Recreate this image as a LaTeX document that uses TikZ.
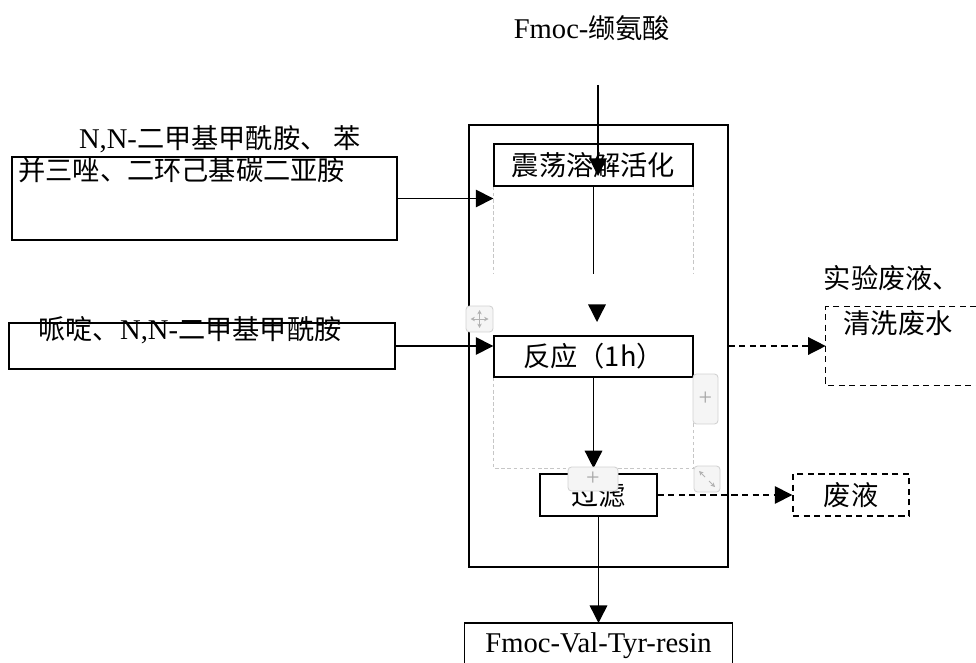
\documentclass[tikz,border=0pt]{standalone}
\usepackage{fontspec}
\setmainfont{Liberation Serif}[Scale=1.05]
\newfontfamily\cjk{Noto Sans CJK SC}
\usepackage{tikz}
\usetikzlibrary{arrows.meta, positioning}
\newcommand{\zh}[1]{{\cjk #1}}

\tikzset{
    stepbox/.style={draw, line width=0.8pt, inner sep=0pt},
    wasteline/.style={line width=0.8pt, dash pattern=on 3.5pt off 2.5pt},
    wastebox/.style={draw, wasteline, inner sep=0pt},
    flow/.style={line width=0.8pt, -{Triangle[length=10pt,width=10pt]}},
    wasteflow/.style={flow, dash pattern=on 3.5pt off 2.5pt},
    cellline/.style={gray!45, line width=0.4pt, dash pattern=on 2pt off 1.5pt},
    uibtn/.style={draw=gray!35, fill=gray!8, rounded corners=2pt, line width=0.5pt, inner sep=0pt, text=gray!70, font=\fontsize{13pt}{13pt}\selectfont},
    uiarrow/.style={gray!60, line width=0.5pt, -{Stealth[length=2.5pt,width=2.5pt]}}
}

\begin{document}
\begin{tikzpicture}[x=0.02cm, y=-0.02cm, font=\fontsize{15.5pt}{18pt}\selectfont]
    \useasboundingbox (0,0) rectangle (976,662);

    % frame round the steps
    \node[stepbox, minimum width=5.18cm, minimum height=8.84cm] (outer) at (598.5,346) {};

    \node[stepbox, minimum width=3.98cm, minimum height=0.84cm] (act) at (593.5,165) {\zh{震荡溶解活化}};
    \node[stepbox, minimum width=3.98cm, minimum height=0.82cm] (react) at (593.5,356.5) {\zh{反应（1h）}};
    \node[stepbox, minimum width=2.34cm, minimum height=0.84cm] (filt) at (598.5,495) {\zh{过滤}};

    % reagents
    \node[stepbox, minimum width=7.7cm, minimum height=1.66cm] (reagA) at (204.5,198.5) {};
    \node (reagAtop) at (220,139) {N,N-\zh{二甲基甲酰胺、 苯}};
    \node[anchor=west, inner sep=0pt] (reagAbot) at (18,170) {\zh{并三唑、二环己基碳二亚胺}};

    \node[stepbox, minimum width=7.72cm, minimum height=0.92cm] (reagB) at (202,346) {};
    \node (reagBtxt) at (190,330) {\zh{哌啶、}N,N-\zh{二甲基甲酰胺}};

    % input and product
    \node (fmoc) at (592,28) {Fmoc-\zh{缬氨酸}};
    \coordinate (fmocin) at (598,85);
    \coordinate (acttip) at (598,176);

    \node[inner sep=0pt, minimum width=5.34cm, minimum height=0.9cm, anchor=north] (prod) at (598.5,623) {Fmoc-Val-Tyr-resin};
    \path[draw, line width=0.8pt] (prod.south west) -- (prod.north west) -- (prod.north east) -- (prod.south east);

    % waste
    \node[minimum width=3cm, minimum height=1.56cm, inner sep=0pt] (wasteA) at (901,346) {};
    \path[draw, wasteline] (wasteA.north east) -- (wasteA.north west) -- (wasteA.south west) -- (wasteA.south east);
    \node (wasteAtop) at (892,278) {\zh{实验废液、}};
    \node (wasteAbot) at (898,323) {\zh{清洗废水}};

    \node[wastebox, minimum width=2.32cm, minimum height=0.84cm] (wasteB) at (851,495) {\zh{废液}};

    % table cell lines
    \path[draw, cellline] (act.south west) -- ++(0,87)
                          (act.south east) -- ++(0,87);
    \path[draw, cellline] (react.south west) -- ++(0,90.5) -| (react.south east);

    % connectors
    \draw[flow] (fmocin) -- (acttip);
    \draw[flow] (reagA.east) -- (reagA.east -| act.west);
    \draw[flow] (reagB.east) -- (reagB.east -| react.west);

    \draw[line width=0.8pt] (act.south) -- ++(0,87) coordinate (gapend);
    \coordinate (headtop) at (597,305);
    \coordinate (headtip) at (597,322);
    \draw[flow] (headtop) -- (headtip);

    \draw[flow] (react.south) -- ++(0,90.5) coordinate (filtin);
    \draw[flow] (filt.south) -- (prod.north);

    \draw[wasteflow] (outer.east) -- (wasteA.west);
    \draw[wasteflow] (filt.east) -- (wasteB.west);

    % editor buttons
    \node[uibtn, minimum width=0.5cm, minimum height=1cm] (addrow) at (705.5,399) {+};
    \node[uibtn, minimum width=1cm, minimum height=0.48cm] (addcol) at (593,479) {+};
    \node[uibtn, minimum width=0.52cm, minimum height=0.52cm] (resize) at (707,479) {};
    \draw[uiarrow] ([shift={(-2,-2)}]resize.center) -- ++(-6,-6);
    \draw[uiarrow] ([shift={(2,2)}]resize.center) -- ++(6,6);
    \node[uibtn, minimum width=0.54cm, minimum height=0.52cm] (move) at (479.5,319) {};
    \draw[uiarrow] (move.center) -- ++(-9,0);
    \draw[uiarrow] (move.center) -- ++(9,0);
    \draw[uiarrow] (move.center) -- ++(0,-9);
    \draw[uiarrow] (move.center) -- ++(0,9);

\end{tikzpicture}
\end{document}
